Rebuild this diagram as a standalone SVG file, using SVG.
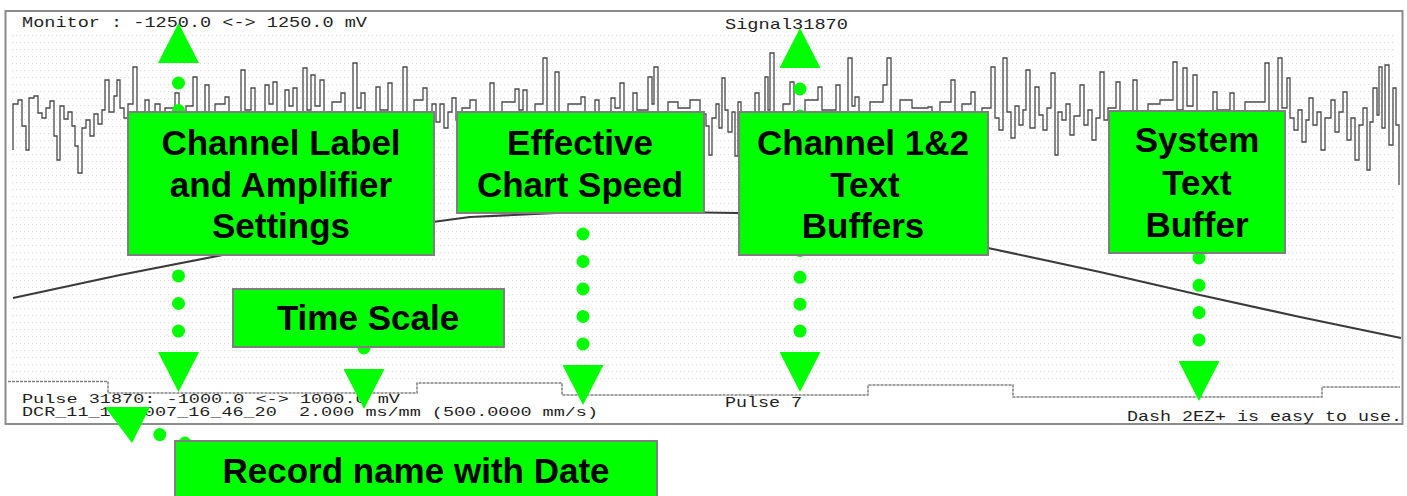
<svg xmlns="http://www.w3.org/2000/svg" width="1407" height="496" viewBox="0 0 1407 496">
<style>
.mono{font-family:"Liberation Mono","DejaVu Sans Mono",monospace;font-size:15px;fill:#1e1e1e;}
.small{font-size:13px;}
.lbl{font-family:"Liberation Sans",Arial,sans-serif;font-weight:bold;font-size:35px;fill:#000;text-anchor:middle;}
.box{fill:#00ff00;stroke:#7f7f7f;stroke-width:2;}
.conn{fill:none;stroke:#00ff00;stroke-width:13;stroke-linecap:round;stroke-dasharray:0 27.5;}
.head{fill:#00ff00;stroke:none;}
.trace{fill:none;stroke:#4a4a4a;stroke-width:1.3;stroke-linejoin:miter;}
</style>
<defs>
<pattern id="grid" width="4" height="7" patternUnits="userSpaceOnUse">
<rect x="0" y="0" width="1.2" height="1.2" fill="#dedede"/>
</pattern>
<marker id="tri" viewBox="0 0 40 41" refX="0" refY="20.5" markerWidth="40" markerHeight="41" markerUnits="userSpaceOnUse" orient="auto-start-reverse">
<path d="M0,0 L40,20.5 L0,41 Z" fill="#00ff00"/>
</marker>
</defs>
<rect width="1407" height="496" fill="#ffffff"/>
<g id="chart">
<rect x="5.5" y="11" width="1397" height="413" fill="#ffffff" stroke="#8c8c8c" stroke-width="2"/>
<rect x="12" y="32" width="1384" height="348" fill="url(#grid)"/>
<path class="trace" d="M13,150 V104 H18 V100 H22 V126 H26 V150 H29 V98 H34 V96 H38 V113 H42 V118 H46 V108 H50 V101 H54 V136 H57 V160 H60 V106 H64 V119 H68 V112 H72 V126 H75 V146 H78 V173 H82 V128 H86 V120 H90 V136 H94 V114 H98 V124 H102 V110 H105 V80 H109 V112 H114 V96 H117 V80 H120 V108 H124 V118 H128 V104 H133 V67 H137 V112 H145 V100 H149 V116 H155 V104 H160 V118 H165 V108 H175 V93 H179 V115 H186 V106 H193 V77 H197 V112 H205 V85 H209 V118 H215 V104 H225 V97 H229 V116 H241 V70 H245 V110 H251 V88 H255 V115 H265 V85 H269 V104 H273 V82 H277 V113 H285 V90 H289 V106 H293 V88 H297 V118 H303 V68 H307 V110 H311 V75 H315 V106 H320 V80 H324 V115 H332 V102 H341 V93 H345 V118 H353 V63 H357 V108 H361 V93 H365 V116 H376 V87 H380 V110 H388 V83 H392 V117 H403 V67 H407 V112 H414 V100 H423 V88 H427 V116 H432 V104 H436 V122 H440 V104 H444 V128 H448 V112 H452 V98 H456 V120 H462 V108 H470 V100 H476 V116 H490 V83 H494 V112 H502 V102 H515 V89 H519 V110 H523 V90 H527 V116 H535 V104 H543 V58 H547 V112 H555 V72 H559 V115 H568 V104 H581 V97 H585 V116 H595 V100 H599 V112 H611 V98 H615 V108 H620 V83 H624 V116 H633 V93 H637 V110 H648 V77 H652 V104 H654 V67 H658 V114 H668 V102 H678 V108 H690 V100 H700 V114 H706 V126 H709 V155 H712 V118 H716 V104 H719 V128 H722 V78 H725 V110 H728 V132 H732 V112 H735 V156 H738 V102 H741 V116 H755 V93 H759 V112 H765 V77 H768 V110 H770 V53 H774 V112 H783 V104 H790 V82 H794 V114 H805 V100 H818 V87 H822 V110 H836 V85 H840 V114 H848 V58 H852 V106 H855 V97 H859 V116 H870 V102 H883 V85 H887 V58 H891 V112 H900 V100 H912 V108 H928 V107 H932 V118 H940 V102 H951 V80 H955 V114 H962 V104 H971 V92 H975 V120 H982 V108 H991 V67 H995 V118 H999 V130 H1003 V58 H1007 V112 H1011 V138 H1015 V106 H1019 V125 H1023 V110 H1026 V70 H1030 V128 H1035 V87 H1039 V115 H1043 V130 H1047 V108 H1051 V73 H1055 V155 H1058 V112 H1062 V120 H1066 V104 H1070 V135 H1074 V116 H1080 V85 H1084 V125 H1088 V110 H1092 V140 H1096 V118 H1100 V72 H1104 V120 H1108 V108 H1116 V82 H1120 V112 H1133 V80 H1137 V114 H1148 V104 H1160 V100 H1173 V62 H1177 V110 H1183 V68 H1187 V106 H1193 V75 H1197 V114 H1213 V92 H1217 V110 H1230 V93 H1234 V112 H1245 V102 H1265 V63 H1269 V112 H1278 V58 H1282 V108 H1287 V78 H1290 V118 H1294 V130 H1298 V110 H1302 V142 H1306 V120 H1309 V98 H1313 V125 H1317 V112 H1321 V150 H1325 V118 H1331 V100 H1335 V132 H1339 V112 H1343 V92 H1347 V140 H1351 V118 H1355 V160 H1359 V125 H1363 V108 H1367 V170 H1370 V122 H1373 V88 H1377 V115 H1379 V67 H1382 V128 H1385 V65 H1389 V145 H1393 V88 H1396 V125 H1399 V185"/>
<polyline fill="none" stroke="#3a3a3a" stroke-width="2.2" stroke-linejoin="round" points="13,298 120,275 233,253 350,233 470,217 600,211 737,213 860,228 988,248 1100,272 1200,295 1300,317 1401,338"/>
<path fill="none" stroke="#808080" stroke-width="1.5" stroke-dasharray="3 1" d="M8,381.5 H108 V393 H417 V383 H562 V395 H868 V385 H1013 V397 H1322 V387 H1400"/>
<text class="mono" x="22" y="27" textLength="345" lengthAdjust="spacingAndGlyphs">Monitor : -1250.0 &lt;-&gt; 1250.0 mV</text>
<text class="mono" x="725" y="29" textLength="123" lengthAdjust="spacingAndGlyphs">Signal31870</text>
<text class="mono small" x="22" y="403" textLength="378" lengthAdjust="spacingAndGlyphs">Pulse 31870: -1000.0 &lt;-&gt; 1000.0 mV</text>
<text class="mono small" x="22" y="416" textLength="576" lengthAdjust="spacingAndGlyphs" xml:space="preserve">DCR_11_16_2007_16_46_20  2.000 ms/mm (500.0000 mm/s)</text>
<text class="mono" x="725" y="407" textLength="77" lengthAdjust="spacingAndGlyphs">Pulse 7</text>
<text class="mono" x="1127" y="421" textLength="275" lengthAdjust="spacingAndGlyphs">Dash 2EZ+ is easy to use.</text>
</g>
<g id="connectors">
<path class="conn" d="M178.5,63 V352" style="stroke-dashoffset:7.56;stroke-dasharray:0 27.56" marker-start="url(#tri)" marker-end="url(#tri)"/>
<path class="conn" d="M583,213 V365" style="stroke-dashoffset:6.5" marker-end="url(#tri)"/>
<path class="conn" d="M800,68 V352" style="stroke-dashoffset:5.9;stroke-dasharray:0 26.9" marker-start="url(#tri)" marker-end="url(#tri)"/>
<path class="conn" d="M1199,253 V361" style="stroke-dashoffset:22.3;stroke-dasharray:0 27.3" marker-end="url(#tri)"/>
<path class="conn" d="M364,330 V369" style="stroke-dashoffset:9.5" marker-end="url(#tri)"/>
<path class="conn" d="M212,452 L140,428" style="stroke-dashoffset:24.5;stroke-dasharray:0 26.5"/>
<polygon class="head" points="105,407 150,407 132,443"/>
</g>
<g id="node-channel-label">
<rect class="box" x="128" y="112" width="306" height="143"/>
<text class="lbl" x="281" y="155">Channel Label</text>
<text class="lbl" x="281" y="197">and Amplifier</text>
<text class="lbl" x="281" y="238">Settings</text>
</g>
<g id="node-chart-speed">
<rect class="box" x="457" y="112" width="247" height="101"/>
<text class="lbl" x="580" y="155">Effective</text>
<text class="lbl" x="580" y="197">Chart Speed</text>
</g>
<g id="node-channel-buffers">
<rect class="box" x="739" y="112" width="249" height="143"/>
<text class="lbl" x="863" y="155">Channel 1&amp;2</text>
<text class="lbl" x="865" y="197">Text</text>
<text class="lbl" x="863" y="238">Buffers</text>
</g>
<g id="node-system-buffer">
<rect class="box" x="1109" y="111" width="176" height="142"/>
<text class="lbl" x="1197" y="152">System</text>
<text class="lbl" x="1197" y="195">Text</text>
<text class="lbl" x="1197" y="237">Buffer</text>
</g>
<g id="node-time-scale">
<rect class="box" x="233" y="289" width="271" height="58"/>
<text class="lbl" x="368" y="330">Time Scale</text>
</g>
<g id="node-record-name">
<rect class="box" x="175" y="441" width="482" height="60"/>
<text class="lbl" x="416" y="483">Record name with Date</text>
</g>
</svg>
